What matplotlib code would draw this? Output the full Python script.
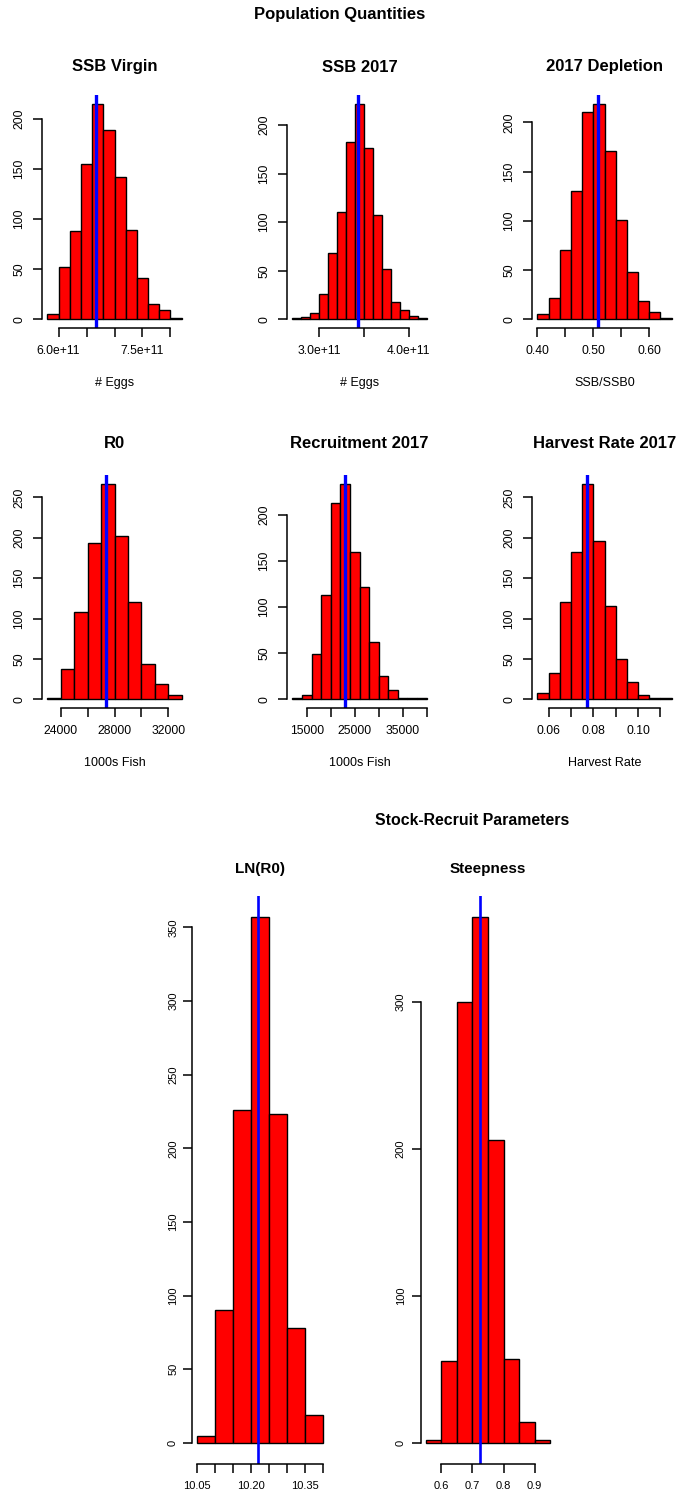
import matplotlib
matplotlib.use('Agg')
import matplotlib.pyplot as plt
import numpy as np

plt.rcParams['font.family'] = ['Liberation Sans', 'DejaVu Sans']

# ---- data (bin edges, counts, blue line = point estimate) ----
ssb0_edges = [5.8e11, 6.0e11, 6.2e11, 6.4e11, 6.6e11, 6.8e11, 7.0e11, 7.2e11, 7.4e11, 7.6e11, 7.8e11, 8.0e11, 8.2e11]
ssb0_counts = [5, 52, 88, 155, 215, 189, 142, 89, 41, 15, 9, 1]
ssb0_est = 6.67e11

ssb17_edges = [2.7e11, 2.8e11, 2.9e11, 3.0e11, 3.1e11, 3.2e11, 3.3e11, 3.4e11, 3.5e11, 3.6e11, 3.7e11, 3.8e11, 3.9e11, 4.0e11, 4.1e11, 4.2e11]
ssb17_counts = [1, 2, 7, 26, 68, 111, 183, 222, 176, 107, 52, 18, 10, 3, 1]
ssb17_est = 3.437e11

depl_edges = [0.40, 0.42, 0.44, 0.46, 0.48, 0.50, 0.52, 0.54, 0.56, 0.58, 0.60, 0.62, 0.64]
depl_counts = [5, 22, 70, 130, 210, 219, 171, 101, 48, 19, 7, 1]
depl_est = 0.508

r0_edges = [23000, 24000, 25000, 26000, 27000, 28000, 29000, 30000, 31000, 32000, 33000]
r0_counts = [2, 38, 108, 194, 267, 202, 121, 44, 19, 6]
r0_est = 27400

rec_edges = [12000, 14000, 16000, 18000, 20000, 22000, 24000, 26000, 28000, 30000, 32000, 34000, 36000, 38000, 40000]
rec_counts = [1, 5, 49, 113, 213, 234, 160, 122, 62, 25, 10, 1, 1, 1]
rec_est = 22900

hr_edges = [0.055, 0.060, 0.065, 0.070, 0.075, 0.080, 0.085, 0.090, 0.095, 0.100, 0.105, 0.110, 0.115]
hr_counts = [8, 33, 121, 183, 267, 196, 115, 50, 22, 6, 2, 2]
hr_est = 0.0773

lnr0_edges = [10.05, 10.10, 10.15, 10.20, 10.25, 10.30, 10.35, 10.40]
lnr0_counts = [5, 90, 226, 357, 223, 78, 19]
lnr0_est = 10.2185

steep_edges = [0.55, 0.60, 0.65, 0.70, 0.75, 0.80, 0.85, 0.90, 0.95]
steep_counts = [2, 56, 300, 358, 206, 57, 14, 2]
steep_est = 0.7234

W, H = 680, 1497
fig = plt.figure(figsize=(W / 100, H / 100), dpi=100)


def px_axes(left, top, w, h):
    return fig.add_axes([left / W, 1 - (top + h) / H, w / W, h / H])


def ftext(x, y, s, **kw):
    fig.text(x / W, 1 - y / H, s, ha='center', va='center', **kw)


def hist_panel(ax, edges, counts, est, xticks, xlabs, yticks, fs=8.7, ypad=5.5, blue_lw=2.4):
    edges = np.asarray(edges, dtype=float)
    ax.bar(edges[:-1], counts, width=np.diff(edges), align='edge',
           color='red', edgecolor='black', linewidth=1.0)
    ax.axvline(est, color='blue', lw=blue_lw)
    span = edges[-1] - edges[0]
    ax.set_xlim(edges[0] - 0.04 * span, edges[-1] + 0.04 * span)
    top = max(counts)
    ax.set_ylim(-0.04 * top, 1.04 * top)
    for s in ['top', 'right']:
        ax.spines[s].set_visible(False)
    ax.spines['left'].set_bounds(yticks[0], yticks[-1])
    ax.spines['bottom'].set_bounds(xticks[0], xticks[-1])
    for s in ['left', 'bottom']:
        ax.spines[s].set_linewidth(1.1)
    ax.set_xticks(xticks)
    ax.set_xticklabels(xlabs)
    ax.set_yticks(yticks)
    ax.set_yticklabels([str(v) for v in yticks], rotation=90, va='center')
    ax.tick_params(axis='both', direction='out', length=6.5, width=1.1, labelsize=fs)
    ax.tick_params(axis='x', pad=6)
    ax.tick_params(axis='y', pad=ypad)


# ---- top block ----
ftext(340, 15, 'Population Quantities', fontsize=12, fontweight='bold')

cols = [42, 287, 532]
pw, ph = 145, 233
rows = [95, 475]

panels = [
    ('SSB Virgin', '# Eggs', ssb0_edges, ssb0_counts, ssb0_est,
     [6.0e11, 6.5e11, 7.0e11, 7.5e11, 8.0e11], ['6.0e+11', '', '', '7.5e+11', ''], [0, 50, 100, 150, 200]),
    ('SSB 2017', '# Eggs', ssb17_edges, ssb17_counts, ssb17_est,
     [3.0e11, 3.5e11, 4.0e11], ['3.0e+11', '', '4.0e+11'], [0, 50, 100, 150, 200]),
    ('2017 Depletion', 'SSB/SSB0', depl_edges, depl_counts, depl_est,
     [0.40, 0.45, 0.50, 0.55, 0.60], ['0.40', '', '0.50', '', '0.60'], [0, 50, 100, 150, 200]),
    ('R0', '1000s Fish', r0_edges, r0_counts, r0_est,
     [24000, 26000, 28000, 30000, 32000], ['24000', '', '28000', '', '32000'], [0, 50, 100, 150, 200, 250]),
    ('Recruitment 2017', '1000s Fish', rec_edges, rec_counts, rec_est,
     [15000, 20000, 25000, 30000, 35000, 40000], ['15000', '', '25000', '', '35000', ''], [0, 50, 100, 150, 200]),
    ('Harvest Rate 2017', 'Harvest Rate', hr_edges, hr_counts, hr_est,
     [0.06, 0.07, 0.08, 0.09, 0.10, 0.11], ['0.06', '', '0.08', '', '0.10', ''], [0, 50, 100, 150, 200, 250]),
]

title_y = [67, 444]
xlab_y = [383, 763]
for i, (title, xlab, edges, counts, est, xt, xl, yt) in enumerate(panels):
    r, c = divmod(i, 3)
    ax = px_axes(cols[c], rows[r], pw, ph)
    hist_panel(ax, edges, counts, est, xt, xl, yt)
    cx = cols[c] + pw / 2
    ftext(cx, title_y[r], title, fontsize=12, fontweight='bold')
    ftext(cx, xlab_y[r], xlab, fontsize=9)

# ---- bottom block ----
ftext(472, 821, 'Stock-Recruit Parameters', fontsize=11.4, fontweight='bold')

ax = px_axes(192, 896, 136, 568)
hist_panel(ax, lnr0_edges, lnr0_counts, lnr0_est,
           [10.05, 10.10, 10.15, 10.20, 10.25, 10.30, 10.35, 10.40],
           ['10.05', '', '', '10.20', '', '', '10.35', ''],
           [0, 50, 100, 150, 200, 250, 300, 350], fs=8, ypad=3.5, blue_lw=1.9)
ftext(260, 869, 'LN(R0)', fontsize=11, fontweight='bold')

ax = px_axes(421, 896, 134, 568)
hist_panel(ax, steep_edges, steep_counts, steep_est,
           [0.6, 0.7, 0.8, 0.9], ['0.6', '0.7', '0.8', '0.9'],
           [0, 100, 200, 300], fs=8, ypad=4.5, blue_lw=1.9)
ftext(488, 869, 'Steepness', fontsize=11, fontweight='bold')

fig.savefig('out.png', dpi=100, facecolor='white')
